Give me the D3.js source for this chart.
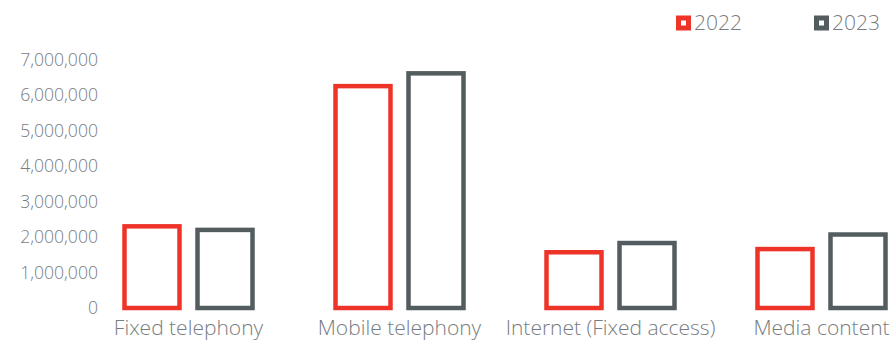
<!DOCTYPE html>
<html>
<head>
<meta charset="utf-8">
<script src="https://cdn.jsdelivr.net/npm/d3@7"></script>
<style>
  html, body { margin: 0; padding: 0; background: #fff; }
  svg { display: block; }
</style>
</head>
<body>
<svg id="chart" width="890" height="341"></svg>
<script>
// Revenue by service line, 2022 vs 2023
const categories = ["Fixed telephony", "Mobile telephony", "Internet (Fixed access)", "Media content"];
const years = ["2022", "2023"];
const values2022 = [2300000, 6250000, 1570000, 1660000];
const values2023 = [2200000, 6610000, 1830000, 2070000];
const yTicks = [0, 1000000, 2000000, 3000000, 4000000, 5000000, 6000000, 7000000];

const colors = { "2022": "#ee3429", "2023": "#535c5f" };
const textColor = "#777c80";

const svg = d3.select("#chart");

const y = d3.scaleLinear().domain([0, 7000000]).range([308, 59.5]);

const x0 = d3.scaleBand().domain(categories).range([83, 927]).paddingInner(0).paddingOuter(0);
const x1 = d3.scaleBand().domain(years).range([41.5, 169.5]).paddingInner(0.2466).paddingOuter(0);

// y axis labels only (no line, no ticks)
const yAxis = d3.axisLeft(y)
  .tickValues(yTicks)
  .tickFormat(d3.format(","))
  .tickSize(0)
  .tickPadding(0);

const gy = svg.append("g").attr("transform", "translate(98,0)").call(yAxis);
gy.select(".domain").remove();
gy.selectAll("text")
  .attr("fill", textColor)
  .style("font-family", "'Open Sans', sans-serif")
  .style("font-weight", 300)
  .style("font-size", "17.6px");

// x axis category labels
const xAxis = d3.axisBottom(x0).tickSize(0).tickPadding(0);
const gx = svg.append("g").attr("transform", "translate(0,320)").call(xAxis);
gx.select(".domain").remove();
gx.selectAll("text")
  .attr("fill", textColor)
  .style("font-family", "'Open Sans', sans-serif")
  .style("font-weight", 300)
  .style("font-size", "21px");

// outlined bars
const rows = categories.map((c, i) => ({ cat: c, vals: [
  { year: "2022", v: values2022[i] },
  { year: "2023", v: values2023[i] }
]}));

const groups = svg.append("g").selectAll("g")
  .data(rows)
  .join("g")
  .attr("transform", d => `translate(${x0(d.cat)},0)`);

groups.selectAll("rect")
  .data(d => d.vals)
  .join("rect")
  .attr("x", d => x1(d.year))
  .attr("width", x1.bandwidth())
  .attr("y", d => y(d.v))
  .attr("height", d => y(0) - y(d.v))
  .attr("fill", "none")
  .attr("stroke", d => colors[d.year])
  .attr("stroke-width", 4.5);

// legend
const legendX = { "2022": 676, "2023": 814 };
const legend = svg.append("g").selectAll("g")
  .data(years)
  .join("g")
  .attr("transform", d => `translate(${legendX[d]},15.5)`);

legend.append("rect")
  .attr("x", 2.5).attr("y", 2.5)
  .attr("width", 10).attr("height", 10)
  .attr("fill", "#fff")
  .attr("stroke", d => colors[d])
  .attr("stroke-width", 5);

legend.append("text")
  .attr("x", 18)
  .attr("y", 14.5)
  .attr("fill", textColor)
  .style("font-family", "'Open Sans', sans-serif")
  .style("font-weight", 300)
  .style("font-size", "21px")
  .text(d => d);
</script>
</body>
</html>
